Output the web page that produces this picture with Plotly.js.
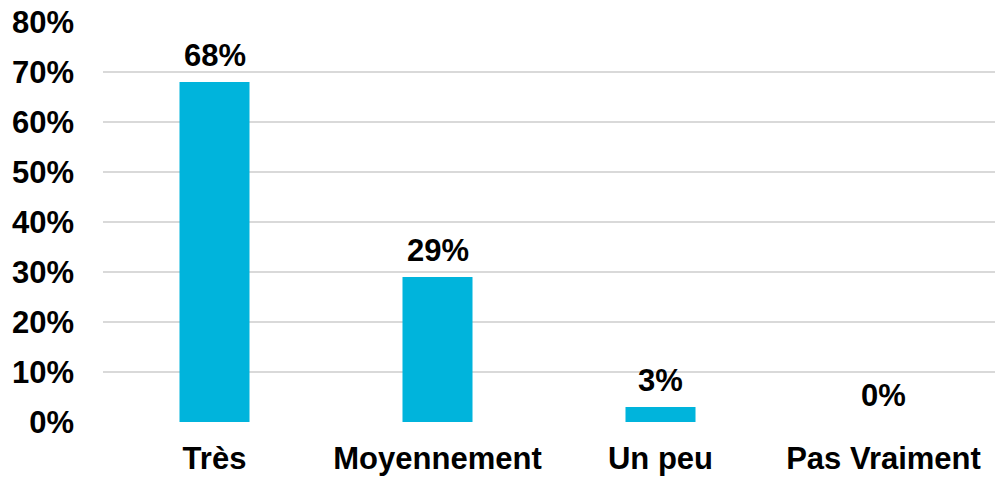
<!DOCTYPE html>
<html>
<head>
<meta charset="utf-8">
<script src="https://cdn.plot.ly/plotly-3.0.1.min.js"></script>
<style>html,body{margin:0;padding:0;background:#fff;}#chart{width:997px;height:481px;}</style>
</head>
<body>
<div id="chart"></div>
<script>
const categories = ["Très", "Moyennement", "Un peu", "Pas Vraiment"];
const values = [68, 29, 3, 0];
const valueLabels = ["68%", "29%", "3%", "0%"];
const tickValues = [0, 10, 20, 30, 40, 50, 60, 70, 80];
const tickLabels = ["0%", "10%", "20%", "30%", "40%", "50%", "60%", "70%", "80%"];

const FONT = "Liberation Sans, Arial, sans-serif";
const FS = 31;

const trace = {
  type: "bar",
  x: categories,
  y: values,
  marker: {color: "#00B4DC"},
  hoverinfo: "none"
};

const annotations = categories.map((c, i) => ({
  x: c, y: values[i], xref: "x", yref: "y",
  text: "<b>" + valueLabels[i] + "</b>",
  showarrow: false, yanchor: "bottom", yshift: 7,
  font: {family: FONT, size: FS, color: "#000"}
}));

const layout = {
  width: 997, height: 481,
  margin: {l: 103, r: 2, t: 22, b: 59},
  paper_bgcolor: "#fff", plot_bgcolor: "#fff",
  bargap: 0.686,
  showlegend: false,
  font: {family: FONT, color: "#000"},
  xaxis: {
    type: "category",
    tickfont: {family: FONT, size: FS, color: "#000", weight: "bold"},
    ticks: "", showline: false, showgrid: false, zeroline: false,
    ticklabelstandoff: 15
  },
  yaxis: {
    range: [0, 80],
    tickmode: "array", tickvals: tickValues, ticktext: tickLabels,
    tickfont: {family: FONT, size: FS, color: "#000", weight: "bold"},
    showgrid: true, gridcolor: "#D9D9D9", gridwidth: 1.5,
    zeroline: false, showline: false, ticks: "",
    ticklabelstandoff: 28
  },
  annotations: annotations
};

Plotly.newPlot("chart", [trace], layout, {staticPlot: true, displayModeBar: false});
</script>
</body>
</html>
